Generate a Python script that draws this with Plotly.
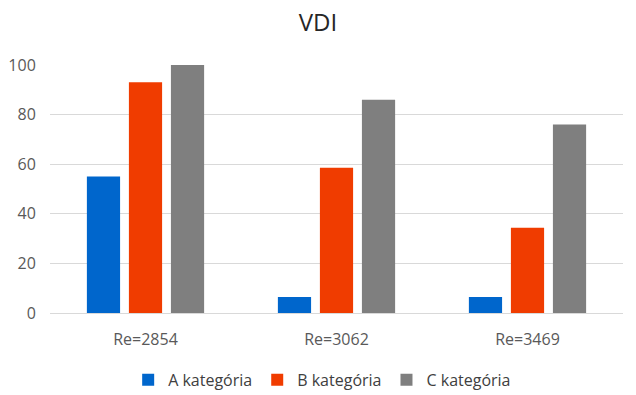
import plotly.graph_objects as go

categories = ["Re=2854", "Re=3062", "Re=3469"]
series_names = ["A kategória", "B kategória", "C kategória"]
a_values = [55, 6.5, 6.5]
b_values = [93, 58.6, 34.4]
c_values = [100, 86, 76]
y_ticks = [0, 20, 40, 60, 80, 100]

colors = ["#0066CC", "#F03C00", "#7F7F7F"]
font_family = "Open Sans, Lato, DejaVu Sans, sans-serif"

fig = go.Figure()
for name, vals, col in zip(series_names, [a_values, b_values, c_values], colors):
    fig.add_trace(go.Bar(x=categories, y=vals, name=name, marker=dict(color=col, line=dict(width=0))))

fig.update_layout(
    width=636, height=395,
    margin=dict(l=50, r=13, t=65, b=82, autoexpand=False),
    paper_bgcolor="white", plot_bgcolor="white",
    barmode="group", bargap=0.34, bargroupgap=0.21,
    title=dict(text="VDI", x=0.5, xref="container", xanchor="center",
               y=1 - 23 / 395, yref="container", yanchor="middle",
               font=dict(family=font_family, size=24, color="#262626")),
    font=dict(family=font_family, size=16, color="#595959"),
    showlegend=True,
    legend=dict(orientation="h", x=0.475, xanchor="center",
                y=-0.27, yanchor="middle",
                font=dict(size=16, color="#404040"), traceorder="normal",
                itemwidth=30, tracegroupgap=0),
    xaxis=dict(showgrid=False, showline=False, zeroline=False,
               ticks="outside", ticklen=12, tickcolor="rgba(0,0,0,0)",
               tickfont=dict(size=16, color="#595959")),
    yaxis=dict(range=[0, 100], tickvals=y_ticks, showgrid=True, gridcolor="#D9D9D9", gridwidth=1.3,
               zeroline=True, zerolinecolor="#D9D9D9", zerolinewidth=1.3, showline=False,
               ticks="outside", ticklen=10, tickcolor="rgba(0,0,0,0)",
               tickfont=dict(size=16, color="#595959")),
)

fig.write_html("out.html", config={"displayModeBar": False},
               post_script="document.body.style.margin='0';document.body.style.padding='0';")
